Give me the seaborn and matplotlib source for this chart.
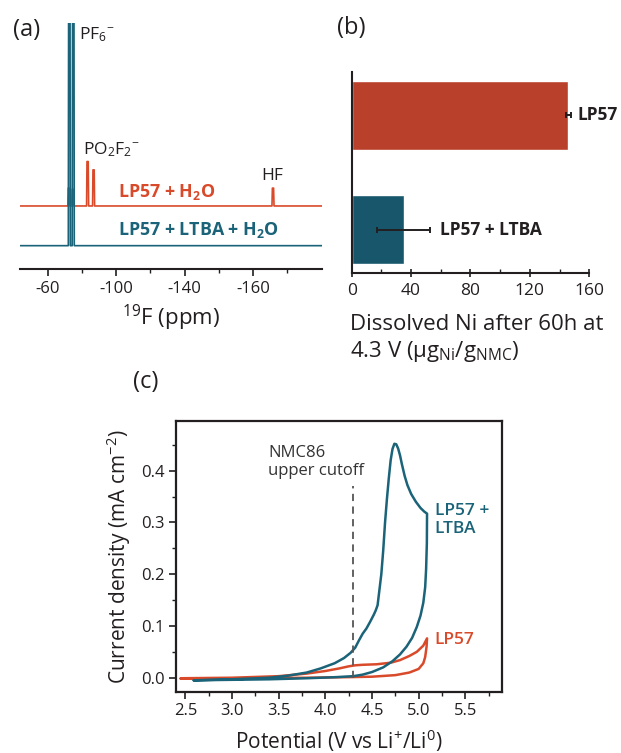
import numpy as np
import pandas as pd
import matplotlib
matplotlib.use("Agg")
import matplotlib.pyplot as plt
import seaborn as sns

sns.set_style("ticks")
plt.rcParams["font.family"] = ["Open Sans", "DejaVu Sans"]
plt.rcParams["mathtext.fontset"] = "custom"
plt.rcParams["mathtext.rm"] = "Open Sans"
plt.rcParams["mathtext.it"] = "Open Sans:italic"
plt.rcParams["mathtext.bf"] = "Open Sans:bold"
plt.rcParams["text.color"] = "#231f20"
plt.rcParams["axes.labelcolor"] = "#231f20"
plt.rcParams["xtick.color"] = "#231f20"
plt.rcParams["ytick.color"] = "#231f20"

RED = "#d94a2a"
BLUE = "#1a6378"
BAR_RED = "#b9402a"
BAR_BLUE = "#17566b"
DARK = "#231f20"

# ---- data: (a) 19F NMR peaks (ppm, relative height) ----
red_peak_ppm = [-72.2, -74.5, -83.2, -86.7, -191.8]
red_peak_h = [0.45, 0.42, 1.12, 0.91, 0.45]
blue_peak_ppm = [-72.5, -74.8]
blue_peak_h = [8.0, 8.0]
a_ticks = [-60, -100, -140, -180]
a_tick_labels = ["-60", "-100", "-140", "-160"]

# ---- data: (b) dissolved Ni ----
b_labels = ["LP57", "LP57 + LTBA"]
b_values = [146, 35]
b_errors = [2, 18]

# ---- data: (c) cyclic voltammetry ----
ltba_v = [2.59, 3.0, 3.4, 3.6, 3.8, 3.95, 4.1, 4.2, 4.27, 4.32, 4.36, 4.40, 4.44, 4.48, 4.52,
          4.54, 4.56, 4.58, 4.60, 4.62, 4.64, 4.66, 4.68, 4.70, 4.72, 4.74, 4.76, 4.78, 4.80,
          4.82, 4.85, 4.88, 4.92, 4.97, 5.02, 5.06, 5.09,
          5.088, 5.08, 5.07, 5.05, 5.02, 4.98, 4.93, 4.87, 4.80, 4.72, 4.62, 4.50, 4.40, 4.30,
          4.10, 3.80, 3.40, 3.00, 2.59]
ltba_j = [-0.005, -0.003, 0.0, 0.004, 0.01, 0.018, 0.028, 0.038, 0.048, 0.058, 0.072, 0.085,
          0.095, 0.108, 0.122, 0.13, 0.14, 0.17, 0.20, 0.245, 0.30, 0.345, 0.385, 0.42, 0.442,
          0.452, 0.451, 0.443, 0.43, 0.413, 0.39, 0.372, 0.355, 0.34, 0.328, 0.321, 0.317,
          0.26, 0.21, 0.175, 0.145, 0.12, 0.098, 0.077, 0.06, 0.045, 0.032, 0.02, 0.011, 0.006,
          0.003, 0.001, -0.001, -0.003, -0.004, -0.005]
lp57_v = [2.45, 3.0, 3.5, 3.8, 4.0, 4.15, 4.25, 4.32, 4.4, 4.55, 4.7, 4.8, 4.9, 4.98, 5.05, 5.09,
          5.085, 5.07, 5.05, 5.0, 4.9, 4.75, 4.5, 4.2, 3.8, 3.2, 2.45]
lp57_j = [-0.001, 0.0, 0.003, 0.008, 0.013, 0.018, 0.022, 0.024, 0.025, 0.026, 0.029, 0.034,
          0.042, 0.05, 0.062, 0.076,
          0.06, 0.04, 0.028, 0.017, 0.01, 0.005, 0.002, 0.001, 0.0, -0.001, -0.002]
cutoff_v = 4.3
cutoff_top = 0.37


def stick_spectrum(centers, heights, offset, lo=-43, hi=-222, half=0.6):
    # narrow sticks on a flat baseline
    xs, ys = [lo], [offset]
    for c, h in sorted(zip(centers, heights), reverse=True):
        xs += [c + half, c + half * 0.6, c - half * 0.6, c - half]
        ys += [offset, offset + h, offset + h, offset]
    xs.append(hi)
    ys.append(offset)
    return pd.DataFrame({"ppm": xs, "y": ys})


fig = plt.figure(figsize=(6.21, 7.53), dpi=100)

# ---------------- (a) ----------------
ax_a = fig.add_axes([0.0322, 0.6428, 0.4863, 0.3267])
red_df = stick_spectrum(red_peak_ppm, red_peak_h, 1.0)
blue_df = stick_spectrum(blue_peak_ppm, blue_peak_h, 0.0)
sns.lineplot(data=red_df, x="ppm", y="y", sort=False, estimator=None, color=RED, lw=1.2, ax=ax_a)
sns.lineplot(data=blue_df, x="ppm", y="y", sort=False, estimator=None, color=BLUE, lw=1.2, ax=ax_a)
ax_a.set_xlim(-43.6, -220.5)
ax_a.set_ylim(-0.587, 5.61)
ax_a.set_xticks(a_ticks)
ax_a.set_xticklabels(a_tick_labels)
ax_a.set_xticks([-80, -120, -160, -200], minor=True)
ax_a.set_yticks([])
ax_a.set_ylabel("")
for s in ["left", "right", "top"]:
    ax_a.spines[s].set_visible(False)
ax_a.spines["bottom"].set_linewidth(1.5)
ax_a.spines["bottom"].set_color(DARK)
ax_a.tick_params(axis="x", which="major", direction="out", length=5, width=1.2, labelsize=12, pad=4)
ax_a.tick_params(axis="x", which="minor", direction="out", length=3, width=1.0)
ax_a.set_xlabel(r"$^{19}$F (ppm)", fontsize=16, labelpad=4)
ax_a.text(-78.2, 5.56, r"PF$_6{}^{-}$", fontsize=12.5, va="top", ha="left")
ax_a.text(-80.5, 2.66, r"PO$_2$F$_2{}^{-}$", fontsize=12.5, va="top", ha="left")
ax_a.text(-191.5, 1.96, "HF", fontsize=12.5, va="top", ha="center")
ax_a.text(-101, 1.34, r"LP57 + H$_\mathbf{2}$O", fontsize=12.8, fontweight="bold", color=RED, va="center")
ax_a.text(-101, 0.40, r"LP57 + LTBA + H$_\mathbf{2}$O", fontsize=12.8, fontweight="bold", color=BLUE, va="center")
fig.text(13 / 621, 1 - 18 / 753, "(a)", fontsize=17, va="top")

# ---------------- (b) ----------------
ax_b = fig.add_axes([0.5663, 0.6375, 0.3826, 0.2669])
b_df = pd.DataFrame({"label": b_labels, "value": b_values})
sns.barplot(data=b_df, x="value", y="label", hue="label", palette=[BAR_RED, BAR_BLUE],
            orient="h", width=0.6, saturation=1, legend=False, errorbar=None, ax=ax_b)
ax_b.errorbar(b_values, range(len(b_values)), xerr=b_errors, fmt="none",
              ecolor=DARK, elinewidth=1.4, capsize=2.5, capthick=1.4)
ax_b.set_xlim(0, 160)
ax_b.set_xticks([0, 40, 80, 120, 160])
ax_b.set_xticks([20, 60, 100, 140], minor=True)
ax_b.set_yticks([])
ax_b.set_ylabel("")
sns.despine(ax=ax_b)
for s in ["left", "bottom"]:
    ax_b.spines[s].set_linewidth(1.5)
    ax_b.spines[s].set_color(DARK)
ax_b.tick_params(axis="x", which="major", direction="inout", length=6, width=1.2, labelsize=12.5, pad=4)
ax_b.tick_params(axis="x", which="minor", direction="in", length=3, width=1.0)
ax_b.set_xlabel("Dissolved Ni after 60h at\n" + r"4.3 V (μg$_\mathrm{Ni}$/g$_\mathrm{NMC}$)",
                fontsize=16, ha="left", x=-0.005, labelpad=11, linespacing=1.25)
ax_b.text(152.4, 0, b_labels[0], fontsize=12.5, fontweight="bold", va="center")
ax_b.text(59.5, 1, b_labels[1], fontsize=12.5, fontweight="bold", va="center")
fig.text(337 / 621, 1 - 16 / 753, "(b)", fontsize=17, va="top")

# ---------------- (c) ----------------
ax_c = fig.add_axes([0.2834, 0.0814, 0.5245, 0.3595])
lp57_df = pd.DataFrame({"V": lp57_v, "J": lp57_j})
ltba_df = pd.DataFrame({"V": ltba_v, "J": ltba_j})
sns.lineplot(data=lp57_df, x="V", y="J", sort=False, estimator=None, color=RED, lw=1.8, ax=ax_c)
sns.lineplot(data=ltba_df, x="V", y="J", sort=False, estimator=None, color=BLUE, lw=1.8, ax=ax_c)
ax_c.vlines(cutoff_v, 0, cutoff_top, colors="#555555", linestyles=(0, (4, 3)), lw=1.3)
ax_c.set_xlim(2.4, 5.89)
ax_c.set_ylim(-0.027, 0.496)
ax_c.set_xticks([2.5, 3.0, 3.5, 4.0, 4.5, 5.0, 5.5])
ax_c.set_xticks([2.75, 3.25, 3.75, 4.25, 4.75, 5.25, 5.75], minor=True)
ax_c.set_yticks([0.0, 0.1, 0.2, 0.3, 0.4])
ax_c.set_yticks([0.05, 0.15, 0.25, 0.35, 0.45], minor=True)
for s in ax_c.spines.values():
    s.set_linewidth(1.6)
    s.set_color(DARK)
ax_c.tick_params(which="major", direction="out", length=5, width=1.2, labelsize=12, pad=3)
ax_c.tick_params(which="minor", direction="out", length=3, width=1.0)
ax_c.set_xlabel(r"Potential (V vs Li$^{+}$/Li$^{0}$)", fontsize=15, labelpad=6)
ax_c.set_ylabel(r"Current density (mA cm$^{-2}$)", fontsize=15, labelpad=6)
ax_c.text(3.39, 0.417, "NMC86\nupper cutoff", fontsize=12, color="#333333", va="center", linespacing=1.15)
ax_c.text(5.17, 0.305, "LP57 +\nLTBA", fontsize=12.5, fontweight="semibold", color=BLUE, va="center",
          linespacing=1.15)
ax_c.text(5.17, 0.073, "LP57", fontsize=12.5, fontweight="semibold", color=RED, va="center")
fig.text(133 / 621, 1 - 370 / 753, "(c)", fontsize=17, va="top")

fig.savefig("out.png", dpi=100)
